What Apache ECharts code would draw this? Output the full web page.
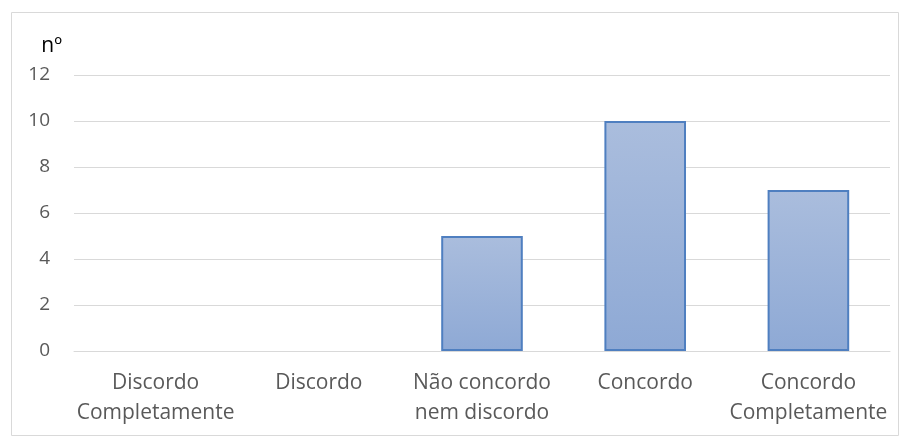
<!DOCTYPE html>
<html>
<head>
<meta charset="utf-8">
<script src="https://cdn.jsdelivr.net/npm/echarts@6/dist/echarts.min.js"></script>
<style>
html,body{margin:0;padding:0;background:#fff;}
#chart{width:906px;height:444px;}
</style>
</head>
<body>
<div id="chart"></div>
<script>
const categories = ["Discordo\nCompletamente", "Discordo", "Não concordo\nnem discordo", "Concordo", "Concordo\nCompletamente"];
const values = [0, 0, 5, 10, 7];
const yTicks = { min: 0, max: 12, interval: 2 };
const yAxisName = "nº";

const chart = echarts.init(document.getElementById('chart'), null, {renderer: 'canvas'});
const font = "'Open Sans', 'Liberation Sans', sans-serif";
chart.setOption({
  animation: false,
  graphic: [{
    type: 'rect', left: 9, top: 10, silent: true,
    shape: { width: 887, height: 423 },
    style: { fill: 'none', stroke: '#d9d9d9', lineWidth: 1 }
  }],
  grid: { left: 74, right: 16, top: 75, bottom: 93, containLabel: false },
  xAxis: {
    type: 'category',
    data: categories,
    axisLine: { show: true, lineStyle: { color: '#d9d9d9', width: 1 } },
    axisTick: { show: false },
    axisLabel: { color: '#595959', fontSize: 21, fontFamily: font, lineHeight: 30, margin: 17, interval: 0 }
  },
  yAxis: {
    type: 'value',
    min: yTicks.min, max: yTicks.max, interval: yTicks.interval,
    name: yAxisName,
    nameLocation: 'end',
    nameGap: 18,
    nameTextStyle: { color: '#000', fontSize: 21, fontFamily: font, align: 'right', padding: [0, 12, 0, 0] },
    axisLine: { show: false },
    axisTick: { show: false },
    axisLabel: { color: '#595959', fontSize: 19, fontFamily: font, margin: 24 },
    splitLine: { lineStyle: { color: '#d9d9d9', width: 1 } }
  },
  series: [{
    type: 'bar',
    data: values.map(v => v === 0 ? { value: v, itemStyle: { borderWidth: 0 } } : v),
    barWidth: '50%',
    itemStyle: {
      color: new echarts.graphic.LinearGradient(0, 0, 0, 1, [
        { offset: 0, color: '#aabddd' },
        { offset: 1, color: '#8ea9d5' }
      ]),
      borderColor: '#4f7fc0',
      borderWidth: 2
    }
  }]
});
</script>
</body>
</html>
